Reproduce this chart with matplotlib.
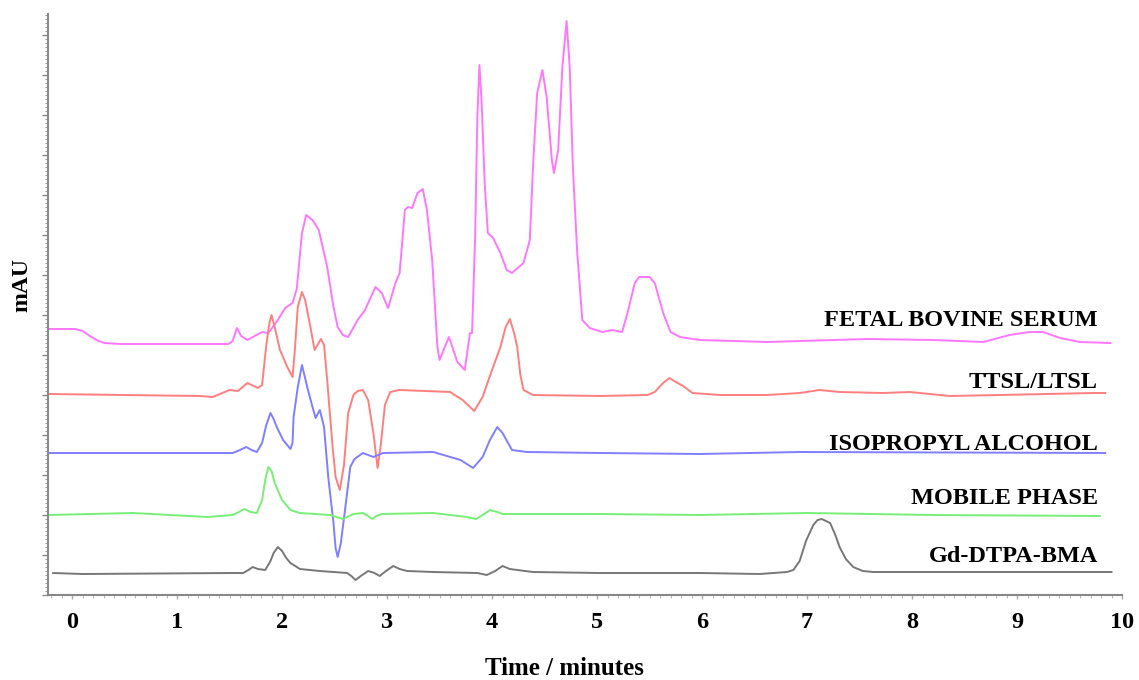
import matplotlib
matplotlib.use("Agg")
import matplotlib.pyplot as plt
from matplotlib.ticker import MultipleLocator

plt.rcParams['font.family'] = ['Liberation Serif', 'DejaVu Serif']
plt.rcParams['font.weight'] = 'bold'

# retention time (min) and detector signal (mAU, relative to each trace's baseline)
fbs_t = [-0.23, 0.03, 0.10, 0.17, 0.25, 0.31, 0.46, 1.49, 1.53, 1.57, 1.61, 1.67, 1.74, 1.81,
         1.87, 1.96, 2.03, 2.10, 2.14, 2.19, 2.23, 2.29, 2.35, 2.43, 2.49, 2.53, 2.58, 2.63,
         2.72, 2.79, 2.89, 2.95, 3.01, 3.08, 3.12, 3.17, 3.20, 3.24, 3.29, 3.34, 3.38, 3.43,
         3.48, 3.50, 3.55, 3.59, 3.67, 3.74, 3.79, 3.81, 3.84, 3.86, 3.88, 3.90, 3.93, 3.96,
         4.01, 4.08, 4.14, 4.19, 4.30, 4.36, 4.39, 4.43, 4.48, 4.52, 4.57, 4.59, 4.63, 4.67,
         4.71, 4.74, 4.77, 4.81, 4.86, 4.93, 5.05, 5.14, 5.24, 5.29, 5.36, 5.40, 5.50, 5.55,
         5.63, 5.70, 5.79, 5.98, 6.62, 7.57, 8.20, 8.68, 8.93, 9.12, 9.25, 9.41, 9.60, 9.89]
fbs_y = [15, 15, 13, 8, 3, 1, 0, 0, 3, 16, 8, 4, 8, 12,
         11, 24, 36, 41, 55, 111, 129, 124, 114, 77, 37, 17, 9, 7,
         24, 34, 57, 51, 36, 61, 71, 134, 137, 136, 151, 155, 134, 84,
         -3, -16, -3, 7, -18, -26, 11, 11, 111, 227, 279, 244, 161, 111,
         106, 91, 74, 71, 81, 104, 177, 251, 274, 247, 184, 171, 194, 277,
         323, 277, 177, 94, 24, 16, 12, 14, 12, 31, 61, 67, 67, 61,
         31, 12, 7, 4, 2, 5, 4, 2, 9, 12, 12, 6, 2, 1]

ttsl_t = [-0.23, 1.22, 1.34, 1.50, 1.58, 1.67, 1.77, 1.81, 1.85, 1.88, 1.90, 1.93, 1.98,
          2.05, 2.10, 2.12, 2.15, 2.19, 2.22, 2.27, 2.31, 2.37, 2.40, 2.43, 2.48, 2.51,
          2.55, 2.59, 2.63, 2.68, 2.72, 2.77, 2.82, 2.87, 2.91, 2.94, 2.98, 3.03, 3.12,
          3.60, 3.72, 3.83, 3.91, 4.00, 4.08, 4.13, 4.17, 4.21, 4.24, 4.27, 4.30, 4.39,
          5.03, 5.48, 5.55, 5.63, 5.69, 5.75, 5.82, 5.91, 6.17, 6.62, 6.93, 7.12, 7.31,
          7.72, 7.98, 8.36, 8.84, 9.72, 9.84]
ttsl_y = [1, -1, -2, 5, 4, 12, 7, 10, 50, 72, 80, 68, 45,
          28, 18, 42, 88, 103, 95, 68, 45, 56, 50, 15, -50, -82,
          -95, -70, -18, 0, 4, 5, -5, -38, -73, -50, -10, 3, 5,
          3, -5, -16, -2, 25, 48, 68, 76, 62, 48, 20, 5, 0,
          -1, 0, 3, 12, 17, 13, 9, 2, 0, 0, 2, 5, 3,
          2, 3, -1, 0, 2, 2]

ipa_t = [-0.23, 1.53, 1.60, 1.66, 1.71, 1.76, 1.81, 1.85, 1.89, 1.92, 1.95, 2.01, 2.08,
         2.10, 2.11, 2.15, 2.19, 2.24, 2.29, 2.32, 2.36, 2.40, 2.44, 2.49, 2.51, 2.53,
         2.56, 2.60, 2.65, 2.69, 2.77, 2.87, 2.96, 3.44, 3.70, 3.82, 3.91, 3.98, 4.05,
         4.10, 4.19, 4.33, 5.03, 5.98, 6.93, 9.84]
ipa_y = [0, 0, 3, 6, 3, 1, 10, 28, 40, 34, 26, 13, 4,
         10, 36, 66, 88, 66, 46, 35, 43, 26, -24, -70, -95, -104,
         -90, -57, -14, -6, 0, -4, 0, 1, -7, -15, -4, 13, 26,
         20, 3, 1, 0, -1, 1, 0]

mp_t = [-0.23, 0.58, 1.29, 1.53, 1.59, 1.64, 1.70, 1.76, 1.81, 1.84, 1.87, 1.90, 1.93,
        2.00, 2.08, 2.17, 2.46, 2.52, 2.58, 2.68, 2.77, 2.82, 2.86, 2.90, 2.95, 3.44,
        3.76, 3.85, 3.91, 3.98, 4.05, 4.10, 5.03, 5.98, 7.00, 8.20, 9.79]
mp_y = [0, 2, -2, 0, 3, 6, 3, 2, 15, 35, 48, 44, 32,
        15, 5, 2, 0, -2, -4, 1, 2, -1, -4, -1, 1, 2,
        -2, -4, 0, 5, 3, 1, 1, 0, 2, 0, -1]

gd_t = [-0.18, 0.10, 1.53, 1.63, 1.68, 1.72, 1.77, 1.84, 1.89, 1.92, 1.96, 2.00, 2.04,
        2.08, 2.17, 2.36, 2.62, 2.66, 2.70, 2.75, 2.82, 2.88, 2.93, 2.99, 3.06, 3.12,
        3.19, 3.44, 3.86, 3.95, 4.03, 4.10, 4.17, 4.24, 4.39, 5.03, 5.98, 6.55, 6.81,
        6.87, 6.93, 6.99, 7.06, 7.10, 7.14, 7.18, 7.22, 7.27, 7.31, 7.37, 7.44, 7.53,
        7.63, 8.20, 9.76, 9.90]
gd_y = [0, -1, 0, 0, 3, 6, 4, 3, 12, 20, 26, 22, 15,
        10, 4, 2, 0, -3, -7, -3, 2, 0, -3, 2, 7, 4,
        2, 1, 0, -2, 2, 7, 4, 3, 1, 0, 0, -1, 1,
        3, 12, 32, 48, 53, 54, 52, 50, 38, 26, 14, 6, 2,
        1, 1, 1, 1]

names = ['FETAL BOVINE SERUM', 'TTSL/LTSL', 'ISOPROPYL ALCOHOL', 'MOBILE PHASE', 'Gd-DTPA-BMA']
baselines = [251, 200, 142, 80, 22]
label_y = [275, 212, 150, 97, 38]
colors = ['#ff77ff', '#ff7f7f', '#7f7fff', '#77ee77', '#777777']
traces = [(fbs_t, fbs_y), (ttsl_t, ttsl_y), (ipa_t, ipa_y), (mp_t, mp_y), (gd_t, gd_y)]

fig = plt.figure(figsize=(11.39, 6.8), dpi=100)
ax = fig.add_axes([48 / 1139, 85 / 680, 1074 / 1139, 581 / 680])

for (t, y), base, c, name, ly in zip(traces, baselines, colors, names, label_y):
    ax.plot(t, [v + base for v in y], color=c, lw=1.4, solid_joinstyle='round')
    ax.text(9.77, ly, name, ha='right', va='center', fontsize=17.5, fontweight='bold')

ax.set_xlim(-0.229, 10.0)
ax.set_ylim(0, 581)

ax.spines['top'].set_visible(False)
ax.spines['right'].set_visible(False)
for s in ['left', 'bottom']:
    ax.spines[s].set_color('#888888')
    ax.spines[s].set_linewidth(1.5)

ax.xaxis.set_major_locator(MultipleLocator(1))
ax.xaxis.set_minor_locator(MultipleLocator(0.1))
ax.tick_params(axis='x', which='major', length=3, width=1, color='#aaaaaa', labelsize=17.5, pad=9)
ax.tick_params(axis='x', which='minor', length=2, width=0.8, color='#bbbbbb')
ax.yaxis.set_major_locator(MultipleLocator(40))
ax.yaxis.set_minor_locator(MultipleLocator(4))
ax.tick_params(axis='y', which='major', length=4, width=1, color='#888888', labelleft=False)
ax.tick_params(axis='y', which='minor', length=2, width=0.7, color='#999999')

ax.set_xlabel('Time / minutes', fontsize=18, fontweight='bold', va='center')
ax.xaxis.set_label_coords(0.481, -0.126)
ax.set_ylabel('mAU', fontsize=17, fontweight='bold', va='center', ha='center')
ax.yaxis.set_label_coords(-0.024, 0.534)

fig.savefig('out.png', dpi=100)
